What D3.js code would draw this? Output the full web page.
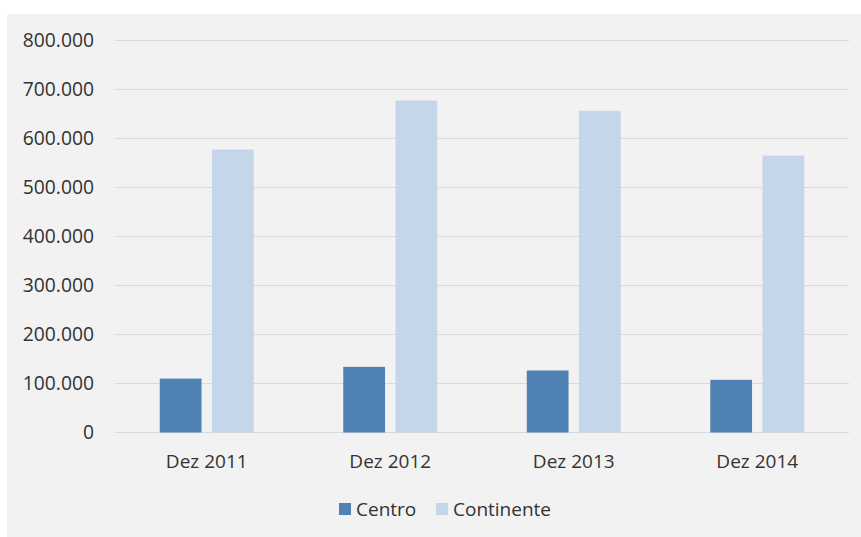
<!DOCTYPE html>
<html>
<head>
<meta charset="utf-8">
<script src="https://cdn.jsdelivr.net/npm/d3@7"></script>
<style>
  html, body { margin: 0; padding: 0; background: #ffffff; }
  svg { display: block; }
  text { font-family: "Open Sans", "Noto Sans", sans-serif; fill: #333333; }
</style>
</head>
<body>
<svg id="chart" width="861" height="537"></svg>
<script>
const categories = ["Dez 2011", "Dez 2012", "Dez 2013", "Dez 2014"];
const seriesNames = ["Centro", "Continente"];
const centroValues = [110000, 134000, 126500, 107500];
const continenteValues = [577500, 677500, 656500, 565000];
const yTicks = [0, 100000, 200000, 300000, 400000, 500000, 600000, 700000, 800000];
const colors = ["#4f81b5", "#c5d5ea"];

const svg = d3.select("#chart");
const W = 861, H = 537;

svg.append("rect").attr("x", 7).attr("y", 14).attr("width", W - 7).attr("height", H - 14).attr("fill", "#f2f2f2");

const locale = d3.formatLocale({ decimal: ",", thousands: ".", grouping: [3], currency: ["", " €"] });
const fmt = locale.format(",d");

const y = d3.scaleLinear().domain([0, 800000]).range([432.5, 40.5]);
const x0 = d3.scaleBand().domain(categories).range([115, 849]).paddingInner(0.488).paddingOuter(0.244);
const x1 = d3.scaleBand().domain(seriesNames).range([0, x0.bandwidth()]).paddingInner(0.2).paddingOuter(0);

// gridlines
svg.append("g").selectAll("line").data(yTicks).join("line")
  .attr("x1", 115).attr("x2", 849)
  .attr("y1", d => y(d)).attr("y2", d => y(d))
  .attr("stroke", "#d9d9d9").attr("stroke-width", 1);

// y labels
svg.append("g").selectAll("text").data(yTicks).join("text")
  .attr("x", 94).attr("y", d => y(d))
  .attr("dy", "0.35em")
  .attr("text-anchor", "end")
  .style("font-size", "19.3px")
  .text(d => fmt(d));

const data = categories.map((c, i) => ({ cat: c, vals: [
  { s: seriesNames[0], v: centroValues[i] },
  { s: seriesNames[1], v: continenteValues[i] }
]}));

const groups = svg.append("g").selectAll("g").data(data).join("g")
  .attr("transform", d => `translate(${x0(d.cat)},0)`);

groups.selectAll("rect").data(d => d.vals).join("rect")
  .attr("x", d => x1(d.s))
  .attr("y", d => y(d.v))
  .attr("width", x1.bandwidth())
  .attr("height", d => y(0) - y(d.v))
  .attr("fill", (d, i) => colors[i]);

// x labels
svg.append("g").selectAll("text").data(categories).join("text")
  .attr("x", d => x0(d) + x0.bandwidth() / 2)
  .attr("y", 461)
  .attr("dy", "0.35em")
  .attr("text-anchor", "middle")
  .style("font-size", "19px")
  .text(d => d);

// legend
const legendX = [339, 436];
const leg = svg.append("g").selectAll("g").data(seriesNames).join("g")
  .attr("transform", (d, i) => `translate(${legendX[i]},503)`);
leg.append("rect").attr("width", 12).attr("height", 12).attr("fill", (d, i) => colors[i]);
leg.append("text").attr("x", 17).attr("y", 6).attr("dy", "0.35em")
  .style("font-size", "19px").text(d => d);
</script>
</body>
</html>
